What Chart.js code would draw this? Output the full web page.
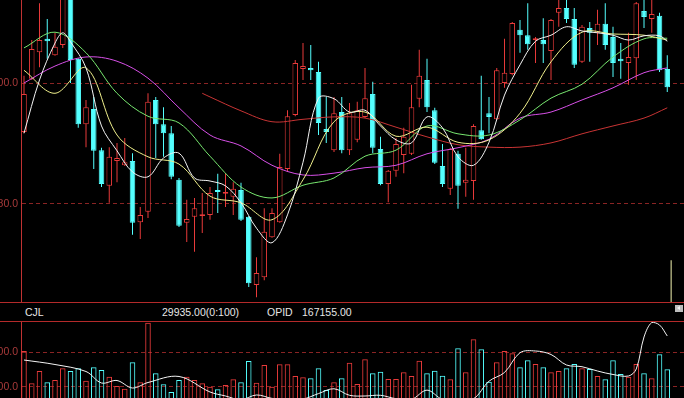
<!DOCTYPE html>
<html>
<head>
<meta charset="utf-8">
<script src="https://cdn.jsdelivr.net/npm/chart.js@4.4.1/dist/chart.umd.min.js"></script>
<style>
html, body { margin: 0; padding: 0; background: #000; width: 684px; height: 398px; overflow: hidden; }
#main { position: absolute; left: 0; top: 0; }
#info {
    position: absolute; left: 0; top: 302px; width: 684px; height: 18px;
    border-top: 1px solid #b42a2a; border-bottom: 1px solid #b42a2a;
    font: 10.5px "Liberation Sans", Arial, sans-serif; color: #e6e6e6; line-height: 18px;
}
#info span { position: absolute; top: 0; }
#info .btn { position: absolute; left: 675px; top: 2px; width: 8px; height: 7px; background: #bdbdbd; }
#info .btn:after {
    content: ""; position: absolute; left: 2px; top: 1px;
    border-top: 2.5px solid transparent; border-bottom: 2.5px solid transparent; border-right: 3px solid #f4f4f4;
}
#vol { position: absolute; left: 0; top: 322px; }
</style>
</head>
<body>
<canvas id="main" width="684" height="302"></canvas>
<div id="info">
    <span style="left:25px">CJL</span>
    <span style="left:162px">29935.00(0:100)</span>
    <span style="left:267px">OPID</span>
    <span style="left:302px">167155.00</span>
    <div class="btn"></div>
</div>
<canvas id="vol" width="684" height="76"></canvas>

<script>
// daily bars, oldest first
const opens = [
    3091.9, 3100.7, 3105.1, 3107.3, 3104.6, 3106.3, 3114.0, 3104.0, 3093.2, 3095.7,
    3088.9, 3083.0, 3087.1, 3086.4, 3087.1, 3077.0, 3078.7, 3097.2, 3093.2, 3091.7,
    3084.0, 3076.9, 3077.9, 3078.0, 3078.2, 3082.3, 3081.7, 3081.2, 3082.3, 3077.9,
    3066.6, 3067.9, 3074.5, 3077.0, 3085.8, 3094.7, 3102.3, 3102.5, 3101.8, 3092.4,
    3088.9, 3095.2, 3088.9, 3090.6, 3094.4, 3098.2, 3089.1, 3083.3, 3085.5, 3088.1,
    3088.3, 3097.4, 3100.5, 3095.5, 3086.3, 3082.5, 3088.3, 3083.5, 3083.8, 3092.2,
    3095.0, 3094.0, 3100.0, 3101.5, 3108.8, 3107.9, 3107.1, 3107.1, 3105.3, 3111.6,
    3112.4, 3110.6, 3103.5, 3109.1, 3108.3, 3109.8, 3107.6, 3104.0, 3103.3, 3104.1,
    3111.9, 3110.6, 3111.1, 3102.3
];
const closes = [
    3098.2, 3105.6, 3107.1, 3106.9, 3106.0, 3114.2, 3103.8, 3093.2, 3096.0, 3088.8,
    3083.3, 3087.8, 3087.6, 3086.9, 3076.9, 3078.2, 3096.9, 3093.2, 3091.7, 3084.5,
    3076.4, 3077.5, 3079.3, 3078.3, 3081.8, 3082.0, 3082.0, 3082.5, 3077.4, 3066.9,
    3068.6, 3075.4, 3078.5, 3086.1, 3094.5, 3103.3, 3102.8, 3102.1, 3093.4, 3091.9,
    3095.0, 3088.9, 3095.0, 3095.5, 3097.5, 3089.3, 3083.3, 3085.5, 3089.9, 3091.1,
    3096.0, 3101.2, 3096.0, 3086.8, 3083.3, 3089.1, 3083.0, 3084.0, 3092.9, 3090.7,
    3094.4, 3102.1, 3101.7, 3109.9, 3107.9, 3106.4, 3107.4, 3106.4, 3110.4, 3112.4,
    3110.6, 3103.0, 3109.3, 3108.3, 3109.8, 3106.3, 3103.3, 3103.6, 3104.3, 3113.2,
    3110.9, 3111.4, 3102.1, 3099.3
];
const highs = [
    3101.2, 3107.1, 3113.2, 3110.6, 3108.3, 3115.0, 3114.5, 3104.1, 3097.2, 3097.7,
    3089.3, 3089.4, 3090.1, 3090.9, 3088.4, 3079.5, 3098.3, 3097.7, 3096.0, 3092.9,
    3084.3, 3080.7, 3081.0, 3081.8, 3082.8, 3085.0, 3085.1, 3083.6, 3083.5, 3078.0,
    3071.2, 3079.3, 3079.3, 3088.3, 3095.5, 3103.8, 3106.6, 3106.3, 3103.5, 3097.7,
    3097.7, 3097.7, 3096.7, 3096.9, 3102.5, 3100.2, 3091.1, 3085.6, 3090.9, 3092.6,
    3099.7, 3105.5, 3104.0, 3095.9, 3089.9, 3089.3, 3088.8, 3089.3, 3093.2, 3101.2,
    3097.7, 3102.5, 3107.3, 3110.1, 3110.4, 3113.2, 3107.6, 3110.7, 3110.6, 3114.2,
    3113.7, 3112.4, 3109.6, 3110.1, 3112.1, 3113.2, 3109.3, 3106.6, 3108.3, 3113.4,
    3114.0, 3114.0, 3111.6, 3104.6
];
const lows = [
    3091.7, 3100.5, 3102.6, 3104.0, 3104.5, 3105.8, 3100.0, 3092.6, 3089.4, 3085.8,
    3082.8, 3080.2, 3083.6, 3086.3, 3074.9, 3074.2, 3077.7, 3087.6, 3087.8, 3084.1,
    3076.2, 3073.7, 3072.1, 3075.2, 3077.4, 3078.5, 3079.5, 3078.2, 3077.2, 3066.3,
    3064.6, 3067.4, 3074.4, 3076.9, 3085.3, 3094.5, 3100.5, 3100.5, 3091.4, 3090.1,
    3088.6, 3088.4, 3088.1, 3090.2, 3094.2, 3088.4, 3083.1, 3080.3, 3084.5, 3085.1,
    3088.1, 3096.0, 3095.2, 3086.6, 3082.8, 3081.5, 3079.2, 3081.2, 3080.7, 3090.6,
    3091.7, 3093.9, 3099.2, 3101.3, 3105.0, 3105.5, 3103.3, 3103.3, 3100.5, 3109.3,
    3109.9, 3102.5, 3103.3, 3103.5, 3106.3, 3105.5, 3101.0, 3100.7, 3099.7, 3100.5,
    3109.1, 3108.3, 3101.8, 3098.5
];
const volumes = [
    20400, 11000, 14560, 11280, 11950, 15350, 14560, 15350, 11740, 15640,
    14850, 12910, 10200, 9420, 17090, 11280, 28600, 13900, 10700, 8460,
    11950, 12910, 11950, 11000, 10000, 9240, 10490, 12150, 11280, 17470,
    11160, 16310, 10000, 16510, 16510, 13110, 12730, 12440, 15350, 9040,
    11280, 12440, 16980, 10790, 17970, 13900, 14360, 12240, 12240, 14190,
    13110, 17560, 13900, 14650, 13200, 12150, 21160, 14190, 23780, 20870,
    11450, 17090, 20380, 19710, 15640, 17670, 16600, 15640, 14190, 14560,
    15350, 16600, 15350, 15150, 13110, 12150, 17670, 13690, 12910, 16600,
    13900, 12440, 19420, 15060
];

// moving average lines at the bar positions listed
const ma5Idx = [0, 2, 4, 5, 6, 8, 10, 12, 14, 16, 18, 20, 22, 24, 26, 28, 30, 32, 34, 36, 38, 40,
                42, 44, 46, 48, 50, 52, 54, 56, 58, 60, 62, 64, 66, 68, 70, 72, 74, 76, 78, 80, 82, 83];
const ma5 = [3091.7, 3100.5, 3106.6, 3108.3, 3106.8, 3102.5, 3092.9, 3088.8, 3085.3, 3084.5, 3087.6,
             3088.4, 3084.3, 3083.8, 3083.0, 3080.2, 3076.0, 3073.6, 3078.2, 3086.9, 3097.5, 3097.4,
             3095.2, 3095.5, 3092.9, 3090.6, 3090.1, 3094.4, 3092.6, 3087.8, 3086.4, 3090.2, 3098.0,
             3103.0, 3106.9, 3107.9, 3109.3, 3108.6, 3108.3, 3107.9, 3107.1, 3107.8, 3107.8, 3106.9];

const maIdx = [0, 4, 8, 12, 16, 20, 24, 28, 32, 36, 40, 44, 48, 52, 56, 60, 64, 68, 72, 76, 80, 83];
const ma10 = [3102.1, 3098.3, 3102.5, 3091.4, 3087.8, 3086.6, 3081.3, 3080.2, 3077.4, 3084.0, 3093.6,
              3095.2, 3091.2, 3092.7, 3090.2, 3090.6, 3095.0, 3103.5, 3108.4, 3108.1, 3107.9, 3107.1];
const ma20 = [3105.8, 3108.4, 3105.0, 3098.3, 3094.5, 3093.4, 3087.9, 3082.8, 3081.0, 3083.1, 3084.3,
              3087.9, 3088.9, 3092.9, 3091.6, 3091.4, 3093.9, 3097.5, 3099.8, 3104.3, 3107.3, 3107.4];
const ma30 = [3100.0, 3102.8, 3104.3, 3103.6, 3100.8, 3095.9, 3091.4, 3089.6, 3086.4, 3084.8, 3085.1,
              3086.0, 3086.4, 3088.3, 3089.3, 3090.7, 3094.2, 3095.2, 3097.2, 3099.2, 3101.7, 3102.5];

const ma60Idx = [23, 24, 28, 32, 36, 40, 44, 48, 52, 56, 60, 64, 68, 72, 76, 80, 83];
const ma60 = [3098.3, 3097.7, 3095.4, 3093.6, 3094.0, 3094.4, 3094.2, 3092.7, 3091.1, 3089.8,
              3089.4, 3089.4, 3090.1, 3091.6, 3092.9, 3094.2, 3095.9];

const volMaIdx = [0, 4, 8, 10, 12, 14, 16, 20, 24, 26, 28, 30, 32, 34, 36, 38, 40, 42, 44, 46,
                  48, 50, 52, 54, 56, 58, 60, 62, 64, 66, 68, 70, 72, 74, 76, 78, 79, 80, 81, 82, 83];
const volMa = [17760, 16450, 14420, 11080, 11800, 9620, 11220, 12970, 8460, 7300,
               6200, 7600, 6600, 6300, 6400, 8000, 9400, 7500, 7300, 7500,
               6500, 6300, 9000, 6300, 6300, 6500, 11600, 14130, 19880, 20380,
               19360, 16310, 15810, 14560, 13550, 13110, 15150, 24450, 28660, 27940, 24740];

const priceTicks = [3080, 3100];
const volTicks = [10000, 20000];

// current-bar cursor at the right edge
const cursorX = [83.5, 83.5];
const cursorY = [3063.8, 3070.7];

const RED = "#e83a3a";
const CYAN = "#54ffff";
const GRID = "#8a2424";
const AXIS = "#c03232";
const LABEL = "#a83a3a";

const idx = opens.map((_, i) => i);
const isUp = i => closes[i] >= opens[i];

function points(xs, ys) {
    return xs.map((x, k) => ({ x: x, y: ys[k] }));
}

function maLine(xs, ys, color) {
    return {
        type: "line",
        data: points(xs, ys),
        borderColor: color,
        borderWidth: 1,
        pointRadius: 0,
        tension: 0.35,
        order: 0
    };
}

function xScale() {
    return { type: "linear", min: -0.387, max: 85.16, offset: false, display: false };
}

function yScale(min, max, ticks) {
    return {
        type: "linear",
        position: "left",
        min: min,
        max: max,
        afterBuildTicks: s => { s.ticks = ticks.map(v => ({ value: v })); },
        afterFit: s => { s.width = 21; s.paddingTop = 0; s.paddingBottom = 0; },
        ticks: {
            color: LABEL,
            padding: 3,
            font: { family: "Liberation Sans", size: 10.5 },
            callback: v => v.toFixed(1)
        },
        grid: { color: GRID, drawTicks: false, lineWidth: 1 },
        border: { color: AXIS, width: 1, dash: [4, 3] }
    };
}

const common = {
    responsive: false,
    animation: false,
    events: [],
    layout: { padding: 0 },
    plugins: { legend: { display: false }, tooltip: { enabled: false } }
};

function renderPrice() {
    new Chart(document.getElementById("main"), {
        type: "bar",
        data: {
            datasets: [
                maLine(ma5Idx, ma5, "#f4f4f4"),
                maLine(maIdx, ma10, "#f0f08c"),
                maLine(maIdx, ma20, "#78e870"),
                maLine(maIdx, ma30, "#d850e8"),
                maLine(ma60Idx, ma60, "#c83434"),
                {
                    type: "line",
                    data: points(cursorX, cursorY),
                    borderColor: "#f4f4b0",
                    borderWidth: 1,
                    pointRadius: 0,
                    order: 0
                },
                {
                    type: "bar",
                    data: idx.map(i => ({ x: i, y: [opens[i], closes[i]] })),
                    grouped: false,
                    maxBarThickness: 7,
                    backgroundColor: c => isUp(c.dataIndex) ? "#000" : CYAN,
                    borderColor: c => isUp(c.dataIndex) ? RED : CYAN,
                    borderWidth: 1,
                    borderSkipped: false,
                    order: 1
                },
                {
                    type: "bar",
                    data: idx.map(i => ({ x: i, y: [lows[i], highs[i]] })),
                    grouped: false,
                    maxBarThickness: 1,
                    backgroundColor: c => isUp(c.dataIndex) ? RED : CYAN,
                    borderWidth: 0,
                    order: 2
                }
            ]
        },
        options: Object.assign({}, common, {
            scales: { x: xScale(), y: yScale(3063.8, 3113.72, priceTicks) }
        })
    });
}

function renderVolume() {
    new Chart(document.getElementById("vol"), {
        type: "bar",
        data: {
            datasets: [
                maLine(volMaIdx, volMa, "#f4f4f4"),
                {
                    type: "bar",
                    data: idx.map(i => ({ x: i, y: volumes[i] })),
                    grouped: false,
                    maxBarThickness: 6,
                    backgroundColor: "rgba(0,0,0,0)",
                    borderColor: c => isUp(c.dataIndex) ? RED : CYAN,
                    borderWidth: 1,
                    borderSkipped: false,
                    order: 1
                }
            ]
        },
        options: Object.assign({}, common, {
            scales: { x: xScale(), y: yScale(6715, 28808, volTicks) }
        })
    });
}

renderPrice();
renderVolume();
</script>
</body>
</html>
